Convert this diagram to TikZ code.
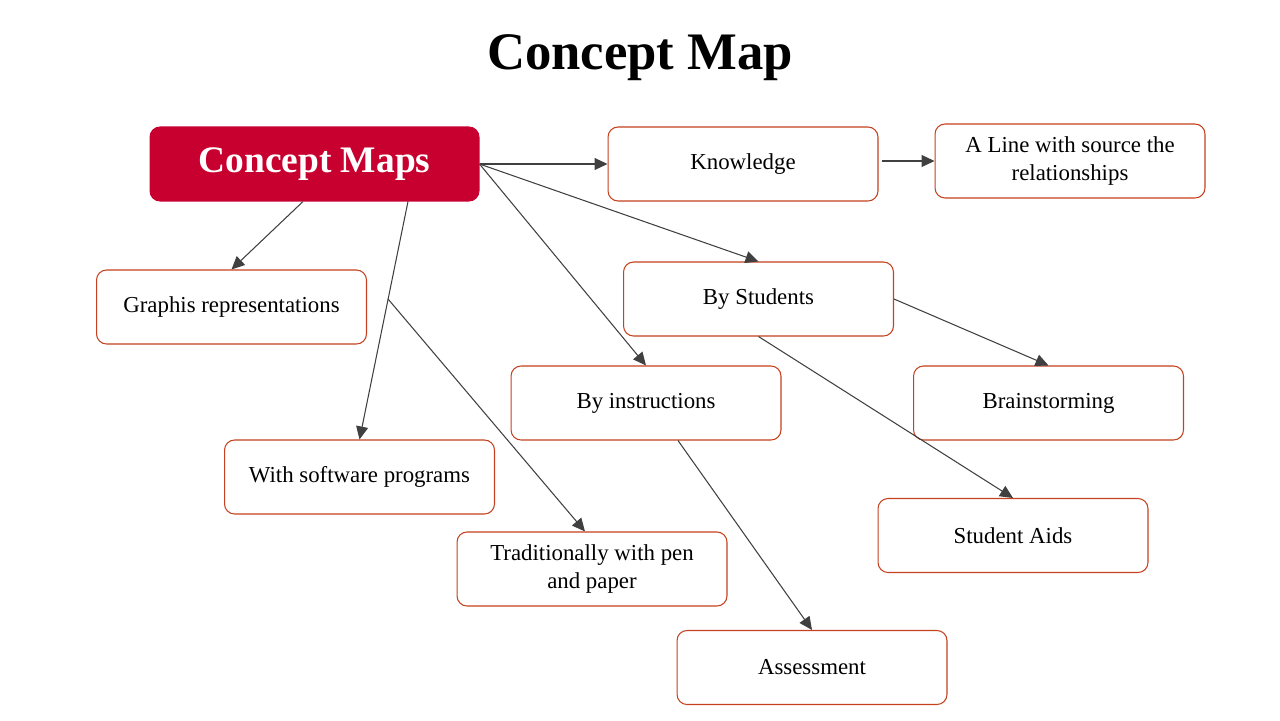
\documentclass[tikz,border=0pt]{standalone}
\usepackage{fontspec}
\setmainfont{Liberation Serif}
\usepackage{tikz}
\usetikzlibrary{arrows.meta,positioning,calc}
\definecolor{Crimson}{HTML}{C8002F}
\definecolor{Rust}{HTML}{C5411F}
\definecolor{Graphite}{HTML}{404040}
\tikzset{
  concept/.style={draw=Rust,line width=0.6pt,rounded corners=0.2cm,minimum width=5.4cm,minimum height=1.48cm,align=center,fill=white,text=black,font=\fontsize{13}{16.5}\selectfont},
  conceptmain/.style={concept,draw=Crimson,fill=Crimson,text=white,minimum width=6.58cm,font=\fontsize{21.3}{25}\selectfont\bfseries},
  arrow/.style={-{Triangle[length=0.26cm,width=0.24cm]},line width=0.6pt,draw=Graphite}
}

\begin{document}
\begin{tikzpicture}[x=0.02cm,y=-0.02cm]
\useasboundingbox (0,0) rectangle (1280,720);
\node[font=\fontsize{30}{36}\selectfont\bfseries] (title) at (640,58) {Concept Map};
\node[conceptmain] (main) at (314.5,164) {Concept Maps};
\node[concept] (know) at (743,164) {Knowledge};
\node[concept] (line) at (1070,161) {A Line with source the\\relationships};
\node[concept] (graph) at (231.5,307) {Graphis representations};
\node[concept] (stud) at (758.5,299) {By Students};
\node[concept] (instr) at (646,403) {By instructions};
\node[concept] (brain) at (1048.5,403) {Brainstorming};
\node[concept] (soft) at (359.5,477) {With software programs};
\node[concept] (aids) at (1013,535.5) {Student Aids};
\node[concept] (trad) at (592,569) {Traditionally with pen\\and paper};
\node[concept] (assess) at (812,667.5) {Assessment};
% links from the main concept
\coordinate (sw) at ([xshift=1.87cm]main.south);
\coordinate (fork) at ($(sw)!0.41!(soft.north)$);
\draw[arrow] (main.east)--(know.west);\draw[arrow] ([xshift=0.06cm]know.east |- line.west)--(line.west);
\draw[arrow] (main.east)--(stud.north);\draw[arrow] (main.east)--(instr.north);
\draw[arrow] ([xshift=-0.23cm]main.south)--(graph.north);
\draw[arrow] (sw)--(soft.north);\draw[arrow] (fork)--([xshift=-0.14cm]trad.north);
% second level
\draw[arrow] (stud.east)--(brain.north);\draw[arrow] (stud.south)--(aids.north);
\draw[arrow] ([xshift=0.64cm]instr.south)--(assess.north);
\end{tikzpicture}
\end{document}
